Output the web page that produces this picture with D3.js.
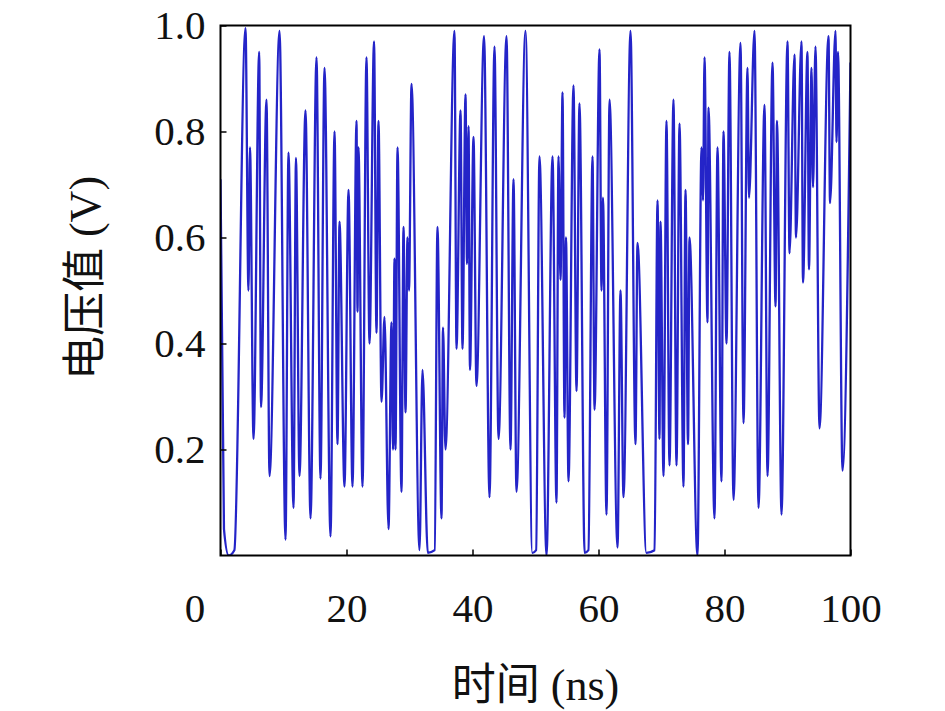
<!DOCTYPE html>
<html>
<head>
<meta charset="utf-8">
<script src="https://cdnjs.cloudflare.com/ajax/libs/d3/7.8.5/d3.min.js"></script>
<style>
  body { margin: 0; background: #fff; }
  text { font-family: "Liberation Serif", "Noto Sans CJK SC", serif; fill: #111; }
</style>
</head>
<body>
<div id="chart"></div>
<script>
// time (ns) and voltage (V) at the turning points of the trace
var timeNs = [
  0.00, 0.55, 1.30, 2.20, 3.97, 4.44, 4.68, 5.24, 6.14, 6.43,
  7.30, 7.78, 9.37, 10.32, 10.79, 11.59, 11.98, 12.54, 13.49, 14.29,
  15.24, 15.87, 16.51, 17.46, 18.10, 18.57, 18.89, 19.68, 20.32, 20.95,
  21.59, 21.75, 21.90, 22.54, 23.17, 23.65, 24.37, 24.76, 25.08, 25.56,
  26.03, 26.67, 27.14, 27.38, 27.62, 27.78, 28.10, 28.73, 29.05, 29.37,
  29.68, 29.92, 30.32, 31.59, 32.06, 32.90, 34.00, 34.44, 35.08, 35.32,
  35.71, 37.14, 37.46, 38.10, 38.41, 38.89, 39.13, 39.37, 39.60, 40.16,
  40.63, 41.83, 42.70, 43.49, 44.13, 45.40, 46.03, 46.51, 46.98, 48.41,
  49.50, 50.10, 50.63, 51.75, 52.70, 53.33, 53.65, 53.97, 54.29, 54.60,
  54.84, 55.24, 56.03, 56.51, 56.98, 57.80, 58.40, 59.05, 59.37, 60.16,
  60.48, 60.71, 61.27, 61.75, 63.02, 63.49, 63.97, 65.08, 65.87, 66.19,
  67.60, 68.90, 69.37, 69.68, 69.84, 70.32, 70.79, 71.27, 71.90, 72.38,
  72.86, 73.49, 73.81, 74.21, 74.44, 75.71, 76.35, 76.59, 76.83, 77.30,
  77.46, 78.41, 78.89, 79.52, 79.84, 80.32, 80.79, 81.43, 82.54, 83.02,
  83.65, 83.89, 84.76, 85.40, 86.35, 86.83, 87.62, 88.10, 88.33, 89.05,
  90.00, 90.32, 91.11, 91.35, 92.22, 92.46, 93.17, 93.41, 93.81, 94.05,
  94.44, 95.08, 96.51, 96.75, 97.62, 97.78, 98.02, 98.73, 100.0
];
var voltage = [
  0.71, 0.05, 0.00, 0.01, 0.995, 0.50, 0.77, 0.22, 0.95, 0.28,
  0.86, 0.15, 0.99, 0.03, 0.76, 0.09, 0.75, 0.15, 0.84, 0.07,
  0.94, 0.145, 0.92, 0.036, 0.80, 0.21, 0.63, 0.13, 0.69, 0.13,
  0.82, 0.46, 0.77, 0.13, 0.94, 0.40, 0.97, 0.42, 0.82, 0.29,
  0.45, 0.05, 0.44, 0.20, 0.56, 0.20, 0.77, 0.12, 0.62, 0.27,
  0.60, 0.50, 0.89, 0.01, 0.35, 0.005, 0.01, 0.62, 0.07, 0.43,
  0.20, 0.99, 0.39, 0.84, 0.39, 0.87, 0.55, 0.81, 0.35, 0.79,
  0.32, 0.98, 0.11, 0.96, 0.22, 0.98, 0.20, 0.71, 0.12, 0.99,
  0.005, 0.01, 0.753, 0.00, 0.753, 0.10, 0.753, 0.52, 0.874, 0.26,
  0.60, 0.14, 0.887, 0.31, 0.853, 0.005, 0.01, 0.753, 0.275, 0.955,
  0.50, 0.675, 0.077, 0.86, 0.015, 0.50, 0.11, 0.99, 0.21, 0.59,
  0.005, 0.01, 0.67, 0.22, 0.63, 0.15, 0.82, 0.17, 0.86, 0.17,
  0.815, 0.13, 0.69, 0.21, 0.60, 0.00, 0.77, 0.67, 0.94, 0.44,
  0.845, 0.07, 0.77, 0.14, 0.80, 0.40, 0.95, 0.105, 0.967, 0.25,
  0.92, 0.675, 0.99, 0.09, 0.85, 0.15, 0.93, 0.47, 0.82, 0.077,
  0.97, 0.57, 0.945, 0.60, 0.97, 0.515, 0.95, 0.54, 0.92, 0.695,
  0.96, 0.24, 0.98, 0.665, 0.99, 0.78, 0.95, 0.16, 0.93
];
var xTicks = [0, 20, 40, 60, 80, 100];
var yTicks = [0.2, 0.4, 0.6, 0.8, 1.0];

var width = 945,
  height = 711,
  plotLeft = 220.5,
  plotRight = 850.5,
  plotTop = 25.5,
  plotBottom = 555.5;

var data = timeNs.map(function(t, i) {
  return { t: t, v: voltage[i] };
});

var x = d3.scaleLinear().domain([0, 100]).range([plotLeft, plotRight]);
var y = d3.scaleLinear().domain([0, 1]).range([plotBottom, plotTop]);

var svg = d3
  .select("#chart")
  .append("svg")
  .attr("width", width)
  .attr("height", height);

svg
  .append("defs")
  .append("clipPath")
  .attr("id", "plot-clip")
  .append("rect")
  .attr("x", plotLeft)
  .attr("y", plotTop)
  .attr("width", plotRight - plotLeft)
  .attr("height", plotBottom - plotTop);

// the trace
var line = d3
  .line()
  .x(function(d) { return x(d.t); })
  .y(function(d) { return y(d.v); })
  .curve(d3.curveMonotoneX);

svg
  .append("path")
  .datum(data)
  .attr("clip-path", "url(#plot-clip)")
  .attr("fill", "none")
  .attr("stroke", "#2424c8")
  .attr("stroke-width", 2.3)
  .attr("stroke-linejoin", "round")
  .attr("d", line);

// axes, ticks pointing inwards
var xAxis = svg
  .append("g")
  .attr("transform", "translate(0," + plotBottom + ")")
  .call(
    d3.axisBottom(x)
      .tickValues(xTicks)
      .tickFormat(d3.format("d"))
      .tickSizeInner(-6)
      .tickSizeOuter(0)
      .tickPadding(37)
  );
xAxis.select(".domain").remove();
xAxis.selectAll("text").attr("font-size", 41);
// the "0" label sits left of the frame in the original
xAxis
  .selectAll(".tick text")
  .filter(function(d) { return d === 0; })
  .attr("dx", -26);

var yAxis = svg
  .append("g")
  .attr("transform", "translate(" + plotLeft + ",0)")
  .call(
    d3.axisLeft(y)
      .tickValues(yTicks)
      .tickFormat(d3.format(".1f"))
      .tickSizeInner(-6)
      .tickSizeOuter(0)
      .tickPadding(15)
  );
yAxis.select(".domain").remove();
yAxis.selectAll("text").attr("font-size", 41);
svg.selectAll(".tick line").attr("stroke", "#000").attr("stroke-width", 1.5);

// frame
svg
  .append("rect")
  .attr("x", plotLeft)
  .attr("y", plotTop)
  .attr("width", plotRight - plotLeft)
  .attr("height", plotBottom - plotTop)
  .attr("fill", "none")
  .attr("stroke", "#000")
  .attr("stroke-width", 2);

// axis titles
svg
  .append("text")
  .attr("x", (plotLeft + plotRight) / 2)
  .attr("y", 700)
  .attr("text-anchor", "middle")
  .attr("font-size", 44)
  .text("时间 (ns)");

svg
  .append("text")
  .attr("transform", "translate(100,278) rotate(-90)")
  .attr("text-anchor", "middle")
  .attr("font-size", 44)
  .text("电压值 (V)");
</script>
</body>
</html>
